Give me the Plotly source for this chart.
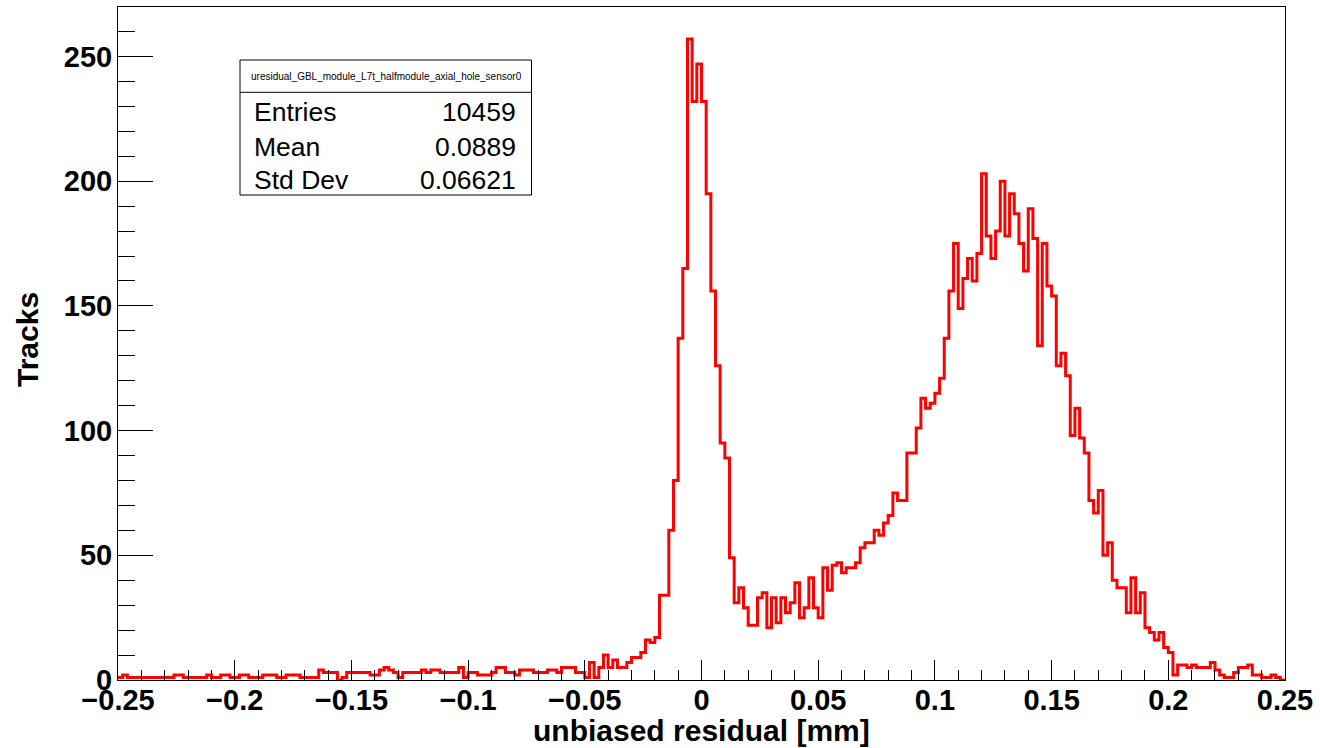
import plotly.graph_objects as go

# ---------------- data ----------------
bin_low = -0.25
bin_width = 0.002

counts_tail = [1, 2, 1, 1, 1, 1, 1, 1, 1, 1, 1, 1, 2, 2, 1, 1, 1, 1, 1, 2,
               1, 1, 2, 2, 1, 1, 2, 2, 1, 1, 1, 2, 2, 2, 1, 1, 2, 2, 2, 1,
               1, 1, 1, 4, 3, 3, 3, 0, 1, 3, 3, 3, 3, 3, 2, 2, 4, 5]
counts_pre = [4, 3, 1, 3, 3, 3, 3, 4, 3, 4, 4, 3, 3, 3, 3, 5, 1, 3, 3, 2,
              2, 2, 3, 5, 5, 3, 3, 2, 4, 4, 4, 3, 3, 3, 4, 4, 3, 5, 5, 5,
              3, 3]
counts_rise = [1, 7, 1, 5, 10, 5, 8, 5, 5, 7, 9, 9, 11, 16, 15, 17, 34, 34,
               60, 80, 137, 165]
counts_peak = [257, 232, 247, 232, 195, 156, 126, 95, 89, 49, 31]
counts_valley = [37, 29, 22, 22, 33, 35, 21, 33, 23, 33, 27, 31, 39, 25, 29,
                 41, 29, 25, 45, 36, 46, 47, 43, 45, 45, 47, 53, 55, 55, 60,
                 58, 63, 66, 75, 72, 72, 91, 91]
counts_hump = [101, 113, 109, 111, 115, 121, 137, 156, 175, 149, 161, 169,
               160, 171, 203, 178, 169, 180]
counts_fall = [200, 178, 195, 187, 175, 164, 189, 177, 134, 175, 158, 154,
               126, 131, 122, 98, 109, 97, 91, 72, 67, 76, 50, 55, 40, 37,
               37, 27, 41, 27, 35, 21, 19, 16, 19, 13, 11, 2, 6, 6, 5, 6, 5,
               5, 5, 7, 4, 2, 1, 1, 3, 5, 5, 6, 2, 2, 1, 1, 2, 1, 0]

x_tick_vals = [-0.25, -0.2, -0.15, -0.1, -0.05, 0, 0.05, 0.1, 0.15, 0.2, 0.25]
x_tick_text = ["\u22120.25", "\u22120.2", "\u22120.15", "\u22120.1", "\u22120.05",
               "0", "0.05", "0.1", "0.15", "0.2", "0.25"]
y_tick_vals = [0, 50, 100, 150, 200, 250]
y_tick_text = ["0", "50", "100", "150", "200", "250"]

hist_name = "uresidual_GBL_module_L7t_halfmodule_axial_hole_sensor0"
stat_labels = ["Entries", "Mean", "Std Dev"]
stat_values = ["10459", "0.0889", "0.06621"]

counts = (counts_tail + counts_pre + counts_rise + counts_peak +
          counts_valley + counts_hump + counts_fall)
n_bins = len(counts)
edges = [bin_low + bin_width * i for i in range(n_bins + 1)]
y_max = max(counts) * 1.05

# ---------------- layout geometry (pixels) ----------------
W, H = 1320, 748
L, R, T, B = 118, 1285, 7, 680


def px(xp):
    return (xp - L) / (R - L)


def py(yp):
    return (B - yp) / (B - T)


fig = go.Figure()
fig.add_trace(go.Scatter(
    x=edges, y=counts + [counts[-1]],
    mode="lines", line=dict(color="#ff0000", width=3, shape="hv"),
    hoverinfo="skip", showlegend=False,
))

tick_font = dict(family="Liberation Sans", size=29, color="black", weight="bold")
title_font = dict(family="Liberation Sans", size=30, color="black", weight="bold")
stat_font = dict(family="Liberation Sans", size=26.5, color="black")

fig.update_layout(
    width=W, height=H,
    margin=dict(l=L, r=W - R, t=T, b=H - B, autoexpand=False),
    paper_bgcolor="white", plot_bgcolor="white",
    showlegend=False,
    xaxis=dict(
        range=[edges[0], edges[-1]],
        tickmode="array", tickvals=x_tick_vals, ticktext=x_tick_text,
        ticks="inside", ticklen=20, tickwidth=1, tickcolor="black",
        minor=dict(dtick=0.01, tick0=0, ticks="inside", ticklen=10,
                   tickwidth=1, tickcolor="black", showgrid=False),
        showline=True, linecolor="black", linewidth=1, mirror=True,
        showgrid=False, zeroline=False,
        tickfont=tick_font, ticklabelstandoff=-6,
    ),
    yaxis=dict(
        range=[0, y_max],
        tickmode="array", tickvals=y_tick_vals, ticktext=y_tick_text,
        ticks="inside", ticklen=35, tickwidth=1, tickcolor="black",
        minor=dict(dtick=10, tick0=0, ticks="inside", ticklen=17,
                   tickwidth=1, tickcolor="black", showgrid=False),
        showline=True, linecolor="black", linewidth=1, mirror=True,
        showgrid=False, zeroline=False,
        tickfont=tick_font, ticklabelstandoff=-1,
    ),
)

annotations = [
    dict(text="unbiased residual [mm]", xref="paper", yref="paper",
         x=0.5, y=py(730), xanchor="center", yanchor="middle",
         showarrow=False, font=title_font),
    dict(text="Tracks", xref="paper", yref="paper",
         x=px(27), y=py(340), xanchor="center", yanchor="middle",
         textangle=-90, showarrow=False, font=title_font),
    dict(text=hist_name, xref="paper", yref="paper",
         x=px(386), y=py(77), xanchor="center", yanchor="middle",
         showarrow=False,
         font=dict(family="Liberation Sans", size=10, color="black")),
]
row_y = [112, 146.5, 180]
for lab, val, yy in zip(stat_labels, stat_values, row_y):
    annotations.append(dict(text=lab, xref="paper", yref="paper",
                            x=px(252), y=py(yy), xanchor="left", yanchor="middle",
                            showarrow=False, font=stat_font))
    annotations.append(dict(text=val, xref="paper", yref="paper",
                            x=px(518), y=py(yy), xanchor="right", yanchor="middle",
                            showarrow=False, font=stat_font))

shapes = [
    dict(type="rect", xref="paper", yref="paper",
         x0=px(240), x1=px(531.5), y0=py(195), y1=py(60),
         line=dict(color="black", width=1), fillcolor="white", layer="above"),
    dict(type="line", xref="paper", yref="paper",
         x0=px(240), x1=px(531.5), y0=py(92.3), y1=py(92.3),
         line=dict(color="black", width=1), layer="above"),
]
fig.update_layout(annotations=annotations, shapes=shapes)

fig.write_html("out.html",
               config={"displayModeBar": False},
               post_script="document.body.style.margin='0px';")
